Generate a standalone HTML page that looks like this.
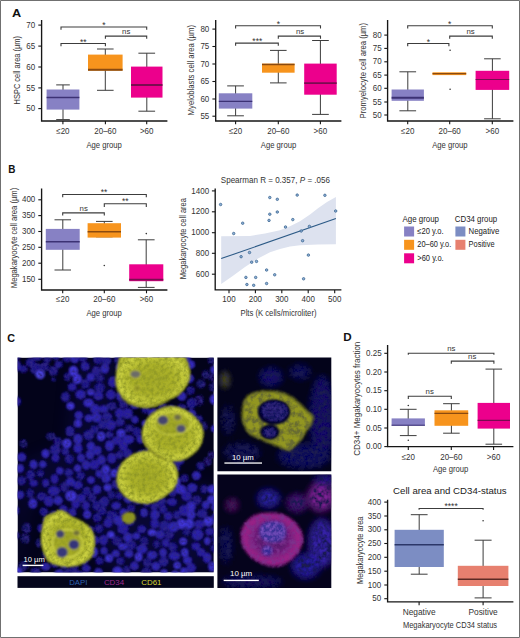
<!DOCTYPE html>
<html><head><meta charset="utf-8"><title>Figure</title>
<style>
html,body{margin:0;padding:0;background:#fff;}
body{width:520px;height:638px;overflow:hidden;position:relative;font-family:"Liberation Sans",sans-serif;}
svg{display:block;position:absolute;left:0;top:0;}
svg text{font-family:"Liberation Sans",sans-serif;}
</style></head><body>
<svg width="520" height="638" viewBox="0 0 520 638">
<rect x="0" y="0" width="520" height="638" fill="#fff"/>

<text x="12.0" y="16.8" font-size="11.8" text-anchor="start" fill="#111" textLength="9.2" lengthAdjust="spacingAndGlyphs" font-weight="bold">A</text>
<text x="8.3" y="173.1" font-size="11.3" text-anchor="start" fill="#111" textLength="7.2" lengthAdjust="spacingAndGlyphs" font-weight="bold">B</text>
<text x="7.3" y="341.5" font-size="11.6" text-anchor="start" fill="#111" textLength="7.8" lengthAdjust="spacingAndGlyphs" font-weight="bold">C</text>
<text x="343.2" y="341.4" font-size="11.0" text-anchor="start" fill="#111" textLength="8.4" lengthAdjust="spacingAndGlyphs" font-weight="bold">D</text>
<path d="M41.6 20.0V121.0H167.4" fill="none" stroke="#161616" stroke-width="1.35"/>
<path d="M38.3 25.1H41.6" stroke="#161616" stroke-width="1.1"/>
<text x="35.1" y="27.7" font-size="8.6" text-anchor="end" fill="#333" textLength="8.9" lengthAdjust="spacingAndGlyphs">70</text>
<path d="M38.3 46.1H41.6" stroke="#161616" stroke-width="1.1"/>
<text x="35.1" y="48.7" font-size="8.6" text-anchor="end" fill="#333" textLength="8.9" lengthAdjust="spacingAndGlyphs">65</text>
<path d="M38.3 67.0H41.6" stroke="#161616" stroke-width="1.1"/>
<text x="35.1" y="69.6" font-size="8.6" text-anchor="end" fill="#333" textLength="8.9" lengthAdjust="spacingAndGlyphs">60</text>
<path d="M38.3 87.9H41.6" stroke="#161616" stroke-width="1.1"/>
<text x="35.1" y="90.5" font-size="8.6" text-anchor="end" fill="#333" textLength="8.9" lengthAdjust="spacingAndGlyphs">55</text>
<path d="M38.3 108.6H41.6" stroke="#161616" stroke-width="1.1"/>
<text x="35.1" y="111.2" font-size="8.6" text-anchor="end" fill="#333" textLength="8.9" lengthAdjust="spacingAndGlyphs">50</text>
<path d="M62.9 121.0V124.3" stroke="#161616" stroke-width="1.1"/>
<text x="62.9" y="134.4" font-size="8.6" text-anchor="middle" fill="#333" textLength="13.3" lengthAdjust="spacingAndGlyphs">≤20</text>
<path d="M105.4 121.0V124.3" stroke="#161616" stroke-width="1.1"/>
<text x="105.4" y="134.4" font-size="8.6" text-anchor="middle" fill="#333" textLength="22.2" lengthAdjust="spacingAndGlyphs">20–60</text>
<path d="M146.7 121.0V124.3" stroke="#161616" stroke-width="1.1"/>
<text x="146.7" y="134.4" font-size="8.6" text-anchor="middle" fill="#333" textLength="13.6" lengthAdjust="spacingAndGlyphs">&gt;60</text>
<path d="M63.0 84.9V119.6M56.2 84.9H69.8M56.2 119.6H69.8" stroke="#3c3c3c" stroke-width="1" fill="none"/>
<rect x="46.6" y="89.5" width="32.8" height="20.1" fill="#8781C4"/>
<path d="M46.6 97.5H79.4" stroke="#3c3274" stroke-width="1.6"/>
<path d="M105.3 49.0V90.3M97.0 49.0H113.6M97.0 90.3H113.6" stroke="#3c3c3c" stroke-width="1" fill="none"/>
<rect x="88.0" y="54.6" width="34.6" height="16.0" fill="#F7941D"/>
<path d="M88.0 69.7H122.6" stroke="#8A4A10" stroke-width="2.0"/>
<path d="M146.8 53.2V111.2M138.4 53.2H155.1M138.4 111.2H155.1" stroke="#3c3c3c" stroke-width="1" fill="none"/>
<rect x="131.0" y="66.6" width="31.5" height="31.0" fill="#EC008C"/>
<path d="M131.0 85.0H162.5" stroke="#7A0C50" stroke-width="2.0"/>
<path d="M61.0 29.7V27.0H146.7V29.7" fill="none" stroke="#3c3c3c" stroke-width="1.1"/>
<text x="103.8" y="27.6" font-size="8.5" text-anchor="middle" fill="#333">*</text>
<path d="M105.4 38.8V36.1H146.7V38.8" fill="none" stroke="#3c3c3c" stroke-width="1.1"/>
<text x="126.2" y="33.7" font-size="7.8" text-anchor="middle" fill="#333">ns</text>
<path d="M61.0 46.2V43.5H105.4V46.2" fill="none" stroke="#3c3c3c" stroke-width="1.1"/>
<text x="83.2" y="44.8" font-size="8.5" text-anchor="middle" fill="#333">**</text>
<text x="104.2" y="147.6" font-size="9.5" text-anchor="middle" fill="#333" textLength="35.4" lengthAdjust="spacingAndGlyphs">Age group</text>
<text transform="translate(20.2,70.2) rotate(-90)" font-size="9.5" text-anchor="middle" fill="#333" textLength="68.4" lengthAdjust="spacingAndGlyphs">HSPC cell area (µm)</text>
<path d="M215.7 20.0V121.0H341.4" fill="none" stroke="#161616" stroke-width="1.35"/>
<path d="M212.4 29.1H215.7" stroke="#161616" stroke-width="1.1"/>
<text x="209.3" y="31.7" font-size="8.6" text-anchor="end" fill="#333" textLength="8.9" lengthAdjust="spacingAndGlyphs">80</text>
<path d="M212.4 46.5H215.7" stroke="#161616" stroke-width="1.1"/>
<text x="209.3" y="49.1" font-size="8.6" text-anchor="end" fill="#333" textLength="8.9" lengthAdjust="spacingAndGlyphs">75</text>
<path d="M212.4 64.0H215.7" stroke="#161616" stroke-width="1.1"/>
<text x="209.3" y="66.6" font-size="8.6" text-anchor="end" fill="#333" textLength="8.9" lengthAdjust="spacingAndGlyphs">70</text>
<path d="M212.4 81.5H215.7" stroke="#161616" stroke-width="1.1"/>
<text x="209.3" y="84.1" font-size="8.6" text-anchor="end" fill="#333" textLength="8.9" lengthAdjust="spacingAndGlyphs">65</text>
<path d="M212.4 99.0H215.7" stroke="#161616" stroke-width="1.1"/>
<text x="209.3" y="101.6" font-size="8.6" text-anchor="end" fill="#333" textLength="8.9" lengthAdjust="spacingAndGlyphs">60</text>
<path d="M212.4 116.2H215.7" stroke="#161616" stroke-width="1.1"/>
<text x="209.3" y="118.8" font-size="8.6" text-anchor="end" fill="#333" textLength="8.9" lengthAdjust="spacingAndGlyphs">55</text>
<path d="M235.6 121.0V124.3" stroke="#161616" stroke-width="1.1"/>
<text x="235.6" y="134.4" font-size="8.6" text-anchor="middle" fill="#333" textLength="13.3" lengthAdjust="spacingAndGlyphs">≤20</text>
<path d="M278.3 121.0V124.3" stroke="#161616" stroke-width="1.1"/>
<text x="278.3" y="134.4" font-size="8.6" text-anchor="middle" fill="#333" textLength="22.2" lengthAdjust="spacingAndGlyphs">20–60</text>
<path d="M320.4 121.0V124.3" stroke="#161616" stroke-width="1.1"/>
<text x="320.4" y="134.4" font-size="8.6" text-anchor="middle" fill="#333" textLength="13.6" lengthAdjust="spacingAndGlyphs">&gt;60</text>
<path d="M235.6 85.9V115.8M227.2 85.9H243.9M227.2 115.8H243.9" stroke="#3c3c3c" stroke-width="1" fill="none"/>
<rect x="218.8" y="93.3" width="33.5" height="15.3" fill="#8781C4"/>
<path d="M218.8 101.4H252.3" stroke="#3c3274" stroke-width="1.2"/>
<path d="M278.3 50.4V82.9M270.0 50.4H286.6M270.0 82.9H286.6" stroke="#3c3c3c" stroke-width="1" fill="none"/>
<rect x="262.0" y="63.6" width="32.6" height="9.1" fill="#F7941D"/>
<path d="M262.0 64.4H294.6" stroke="#8A4A10" stroke-width="1.5"/>
<path d="M320.4 40.5V114.4M312.1 40.5H328.8M312.1 114.4H328.8" stroke="#3c3c3c" stroke-width="1" fill="none"/>
<rect x="304.2" y="63.6" width="32.5" height="31.1" fill="#EC008C"/>
<path d="M304.2 83.1H336.7" stroke="#7A0C50" stroke-width="1.8"/>
<path d="M235.6 28.4V25.7H320.5V28.4" fill="none" stroke="#3c3c3c" stroke-width="1.1"/>
<text x="278.5" y="26.6" font-size="8.5" text-anchor="middle" fill="#333">*</text>
<path d="M278.3 38.8V36.1H320.5V38.8" fill="none" stroke="#3c3c3c" stroke-width="1.1"/>
<text x="300.0" y="33.7" font-size="7.8" text-anchor="middle" fill="#333">ns</text>
<path d="M235.6 45.8V43.1H278.3V45.8" fill="none" stroke="#3c3c3c" stroke-width="1.1"/>
<text x="257.3" y="44.4" font-size="8.5" text-anchor="middle" fill="#333">***</text>
<text x="278.5" y="147.6" font-size="9.5" text-anchor="middle" fill="#333" textLength="35.4" lengthAdjust="spacingAndGlyphs">Age group</text>
<text transform="translate(194.4,70.2) rotate(-90)" font-size="9.5" text-anchor="middle" fill="#333" textLength="90.4" lengthAdjust="spacingAndGlyphs">Myeloblasts cell area (µm)</text>
<path d="M387.6 20.0V121.0H513.4" fill="none" stroke="#161616" stroke-width="1.35"/>
<path d="M384.3 35.1H387.6" stroke="#161616" stroke-width="1.1"/>
<text x="381.7" y="37.7" font-size="8.6" text-anchor="end" fill="#333" textLength="8.9" lengthAdjust="spacingAndGlyphs">80</text>
<path d="M384.3 48.4H387.6" stroke="#161616" stroke-width="1.1"/>
<text x="381.7" y="51.0" font-size="8.6" text-anchor="end" fill="#333" textLength="8.9" lengthAdjust="spacingAndGlyphs">75</text>
<path d="M384.3 61.8H387.6" stroke="#161616" stroke-width="1.1"/>
<text x="381.7" y="64.4" font-size="8.6" text-anchor="end" fill="#333" textLength="8.9" lengthAdjust="spacingAndGlyphs">70</text>
<path d="M384.3 75.1H387.6" stroke="#161616" stroke-width="1.1"/>
<text x="381.7" y="77.7" font-size="8.6" text-anchor="end" fill="#333" textLength="8.9" lengthAdjust="spacingAndGlyphs">65</text>
<path d="M384.3 88.3H387.6" stroke="#161616" stroke-width="1.1"/>
<text x="381.7" y="90.9" font-size="8.6" text-anchor="end" fill="#333" textLength="8.9" lengthAdjust="spacingAndGlyphs">60</text>
<path d="M384.3 102.0H387.6" stroke="#161616" stroke-width="1.1"/>
<text x="381.7" y="104.6" font-size="8.6" text-anchor="end" fill="#333" textLength="8.9" lengthAdjust="spacingAndGlyphs">55</text>
<path d="M384.3 115.0H387.6" stroke="#161616" stroke-width="1.1"/>
<text x="381.7" y="117.6" font-size="8.6" text-anchor="end" fill="#333" textLength="8.9" lengthAdjust="spacingAndGlyphs">50</text>
<path d="M407.7 121.0V124.3" stroke="#161616" stroke-width="1.1"/>
<text x="407.7" y="134.4" font-size="8.6" text-anchor="middle" fill="#333" textLength="13.3" lengthAdjust="spacingAndGlyphs">≤20</text>
<path d="M449.7 121.0V124.3" stroke="#161616" stroke-width="1.1"/>
<text x="449.7" y="134.4" font-size="8.6" text-anchor="middle" fill="#333" textLength="22.2" lengthAdjust="spacingAndGlyphs">20–60</text>
<path d="M492.3 121.0V124.3" stroke="#161616" stroke-width="1.1"/>
<text x="492.3" y="134.4" font-size="8.6" text-anchor="middle" fill="#333" textLength="13.6" lengthAdjust="spacingAndGlyphs">&gt;60</text>
<path d="M407.8 71.8V110.8M399.4 71.8H416.1M399.4 110.8H416.1" stroke="#3c3c3c" stroke-width="1" fill="none"/>
<rect x="391.6" y="89.5" width="32.3" height="11.3" fill="#8781C4"/>
<path d="M391.6 97.8H423.9" stroke="#3c3274" stroke-width="2.0"/>
<rect x="432.5" y="72.3" width="33.7" height="2.8" fill="#F7941D"/>
<path d="M432.5 73.7H466.2" stroke="#8A4A10" stroke-width="1.2"/>
<circle cx="450.1" cy="50.2" r="0.8" fill="#333"/><circle cx="450.1" cy="89.3" r="0.8" fill="#333"/>
<path d="M492.4 58.8V118.8M484.1 58.8H500.7M484.1 118.8H500.7" stroke="#3c3c3c" stroke-width="1" fill="none"/>
<rect x="475.6" y="70.8" width="33.6" height="19.1" fill="#EC008C"/>
<path d="M475.6 79.5H509.2" stroke="#7A0C50" stroke-width="1.2"/>
<path d="M407.7 28.4V25.7H492.3V28.4" fill="none" stroke="#3c3c3c" stroke-width="1.1"/>
<text x="449.7" y="26.6" font-size="8.5" text-anchor="middle" fill="#333">*</text>
<path d="M449.7 38.8V36.1H492.3V38.8" fill="none" stroke="#3c3c3c" stroke-width="1.1"/>
<text x="470.6" y="33.7" font-size="7.8" text-anchor="middle" fill="#333">ns</text>
<path d="M407.7 46.2V43.5H448.9V46.2" fill="none" stroke="#3c3c3c" stroke-width="1.1"/>
<text x="428.4" y="44.7" font-size="8.5" text-anchor="middle" fill="#333">*</text>
<text x="449.9" y="147.6" font-size="9.5" text-anchor="middle" fill="#333" textLength="35.4" lengthAdjust="spacingAndGlyphs">Age group</text>
<text transform="translate(366.2,70.7) rotate(-90)" font-size="9.5" text-anchor="middle" fill="#333" textLength="95.4" lengthAdjust="spacingAndGlyphs">Promyelocyte cell area (µm)</text>
<path d="M41.6 188.5V290.0H167.4" fill="none" stroke="#161616" stroke-width="1.35"/>
<path d="M38.3 199.8H41.6" stroke="#161616" stroke-width="1.1"/>
<text x="35.3" y="202.4" font-size="8.6" text-anchor="end" fill="#333" textLength="13.3" lengthAdjust="spacingAndGlyphs">400</text>
<path d="M38.3 215.6H41.6" stroke="#161616" stroke-width="1.1"/>
<text x="35.3" y="218.2" font-size="8.6" text-anchor="end" fill="#333" textLength="13.3" lengthAdjust="spacingAndGlyphs">350</text>
<path d="M38.3 231.5H41.6" stroke="#161616" stroke-width="1.1"/>
<text x="35.3" y="234.1" font-size="8.6" text-anchor="end" fill="#333" textLength="13.3" lengthAdjust="spacingAndGlyphs">300</text>
<path d="M38.3 247.3H41.6" stroke="#161616" stroke-width="1.1"/>
<text x="35.3" y="249.9" font-size="8.6" text-anchor="end" fill="#333" textLength="13.3" lengthAdjust="spacingAndGlyphs">250</text>
<path d="M38.3 263.2H41.6" stroke="#161616" stroke-width="1.1"/>
<text x="35.3" y="265.8" font-size="8.6" text-anchor="end" fill="#333" textLength="13.3" lengthAdjust="spacingAndGlyphs">200</text>
<path d="M38.3 279.3H41.6" stroke="#161616" stroke-width="1.1"/>
<text x="35.3" y="281.9" font-size="8.6" text-anchor="end" fill="#333" textLength="13.3" lengthAdjust="spacingAndGlyphs">150</text>
<path d="M62.7 290.0V293.3" stroke="#161616" stroke-width="1.1"/>
<text x="62.7" y="302.4" font-size="8.6" text-anchor="middle" fill="#333" textLength="13.3" lengthAdjust="spacingAndGlyphs">≤20</text>
<path d="M104.3 290.0V293.3" stroke="#161616" stroke-width="1.1"/>
<text x="104.3" y="302.4" font-size="8.6" text-anchor="middle" fill="#333" textLength="22.2" lengthAdjust="spacingAndGlyphs">20–60</text>
<path d="M146.5 290.0V293.3" stroke="#161616" stroke-width="1.1"/>
<text x="146.5" y="302.4" font-size="8.6" text-anchor="middle" fill="#333" textLength="13.6" lengthAdjust="spacingAndGlyphs">&gt;60</text>
<path d="M62.8 219.8V270.0M54.5 219.8H71.0M54.5 270.0H71.0" stroke="#3c3c3c" stroke-width="1" fill="none"/>
<rect x="45.8" y="228.9" width="33.9" height="20.9" fill="#8781C4"/>
<path d="M45.8 241.7H79.7" stroke="#3c3274" stroke-width="1.4"/>
<path d="M104.3 221.4V236.8M96.0 221.4H112.6M96.0 236.8H112.6" stroke="#3c3c3c" stroke-width="1" fill="none"/>
<rect x="87.6" y="223.2" width="33.4" height="14.4" fill="#F7941D"/>
<path d="M87.6 231.8H121.0" stroke="#8A4A10" stroke-width="1.6"/>
<circle cx="104.3" cy="265.5" r="0.8" fill="#333"/>
<path d="M146.2 239.8V287.4M137.9 239.8H154.6M137.9 287.4H154.6" stroke="#3c3c3c" stroke-width="1" fill="none"/>
<rect x="129.2" y="264.3" width="34.1" height="16.9" fill="#EC008C"/>
<path d="M129.2 279.7H163.3" stroke="#7A0C50" stroke-width="1.8"/>
<circle cx="146.3" cy="233.6" r="0.8" fill="#333"/>
<path d="M62.7 197.2V194.5H146.3V197.2" fill="none" stroke="#3c3c3c" stroke-width="1.1"/>
<text x="104.1" y="194.6" font-size="8.5" text-anchor="middle" fill="#333">**</text>
<path d="M104.3 206.9V203.7H146.3V206.9" fill="none" stroke="#3c3c3c" stroke-width="1.1"/>
<text x="125.2" y="204.2" font-size="8.5" text-anchor="middle" fill="#333">**</text>
<path d="M62.7 215.6V212.9H104.3V215.6" fill="none" stroke="#3c3c3c" stroke-width="1.1"/>
<text x="83.7" y="210.6" font-size="7.8" text-anchor="middle" fill="#333">ns</text>
<text x="104.2" y="315.9" font-size="9.5" text-anchor="middle" fill="#333" textLength="35.4" lengthAdjust="spacingAndGlyphs">Age group</text>
<text transform="translate(16.5,238.0) rotate(-90)" font-size="9.5" text-anchor="middle" fill="#333" textLength="100.4" lengthAdjust="spacingAndGlyphs">Megakaryocyte cell area (µm)</text>
<path d="M221.2 236.3 L250 236.0 L265 233.5 L280 230.2 L290 226.2 L300 221.2 L310 214.5 L318 208.2 L327 202.0 L335.9 197.1 L335.9 244.3 L318 244.5 L300 245.2 L290 246.5 L280 249.0 L270 252.3 L258 258.5 L245 267.0 L232 276.5 L221.2 284.1 Z" fill="#dde2ef"/>
<path d="M221.2 258.6L335.9 218.6" stroke="#2c5a86" stroke-width="1.1"/>
<circle cx="220.6" cy="204.5" r="1.25" fill="#8fb0d6" stroke="#2f5c88" stroke-width="0.7"/>
<circle cx="269.8" cy="197.5" r="1.25" fill="#8fb0d6" stroke="#2f5c88" stroke-width="0.7"/>
<circle cx="269.8" cy="214.2" r="1.25" fill="#8fb0d6" stroke="#2f5c88" stroke-width="0.7"/>
<circle cx="269.0" cy="220.4" r="1.25" fill="#8fb0d6" stroke="#2f5c88" stroke-width="0.7"/>
<circle cx="242.7" cy="223.2" r="1.25" fill="#8fb0d6" stroke="#2f5c88" stroke-width="0.7"/>
<circle cx="233.7" cy="233.5" r="1.25" fill="#8fb0d6" stroke="#2f5c88" stroke-width="0.7"/>
<circle cx="249.5" cy="252.5" r="1.25" fill="#8fb0d6" stroke="#2f5c88" stroke-width="0.7"/>
<circle cx="241.1" cy="256.7" r="1.25" fill="#8fb0d6" stroke="#2f5c88" stroke-width="0.7"/>
<circle cx="251.7" cy="262.2" r="1.25" fill="#8fb0d6" stroke="#2f5c88" stroke-width="0.7"/>
<circle cx="256.5" cy="261.4" r="1.25" fill="#8fb0d6" stroke="#2f5c88" stroke-width="0.7"/>
<circle cx="266.6" cy="270.0" r="1.25" fill="#8fb0d6" stroke="#2f5c88" stroke-width="0.7"/>
<circle cx="245.9" cy="277.4" r="1.25" fill="#8fb0d6" stroke="#2f5c88" stroke-width="0.7"/>
<circle cx="255.7" cy="277.4" r="1.25" fill="#8fb0d6" stroke="#2f5c88" stroke-width="0.7"/>
<circle cx="246.9" cy="284.5" r="1.25" fill="#8fb0d6" stroke="#2f5c88" stroke-width="0.7"/>
<circle cx="253.7" cy="285.3" r="1.25" fill="#8fb0d6" stroke="#2f5c88" stroke-width="0.7"/>
<circle cx="266.6" cy="283.5" r="1.25" fill="#8fb0d6" stroke="#2f5c88" stroke-width="0.7"/>
<circle cx="274.7" cy="274.8" r="1.25" fill="#8fb0d6" stroke="#2f5c88" stroke-width="0.7"/>
<circle cx="277.3" cy="199.3" r="1.25" fill="#8fb0d6" stroke="#2f5c88" stroke-width="0.7"/>
<circle cx="297.2" cy="195.1" r="1.25" fill="#8fb0d6" stroke="#2f5c88" stroke-width="0.7"/>
<circle cx="324.9" cy="195.3" r="1.25" fill="#8fb0d6" stroke="#2f5c88" stroke-width="0.7"/>
<circle cx="335.7" cy="211.0" r="1.25" fill="#8fb0d6" stroke="#2f5c88" stroke-width="0.7"/>
<circle cx="277.3" cy="212.0" r="1.25" fill="#8fb0d6" stroke="#2f5c88" stroke-width="0.7"/>
<circle cx="292.8" cy="219.6" r="1.25" fill="#8fb0d6" stroke="#2f5c88" stroke-width="0.7"/>
<circle cx="285.5" cy="227.0" r="1.25" fill="#8fb0d6" stroke="#2f5c88" stroke-width="0.7"/>
<circle cx="309.4" cy="226.4" r="1.25" fill="#8fb0d6" stroke="#2f5c88" stroke-width="0.7"/>
<circle cx="301.2" cy="231.0" r="1.25" fill="#8fb0d6" stroke="#2f5c88" stroke-width="0.7"/>
<circle cx="302.6" cy="240.7" r="1.25" fill="#8fb0d6" stroke="#2f5c88" stroke-width="0.7"/>
<circle cx="308.4" cy="255.1" r="1.25" fill="#8fb0d6" stroke="#2f5c88" stroke-width="0.7"/>
<circle cx="303.6" cy="278.8" r="1.25" fill="#8fb0d6" stroke="#2f5c88" stroke-width="0.7"/>
<path d="M215.2 188.5V289.9H341.4" fill="none" stroke="#161616" stroke-width="1.35"/>
<path d="M211.9 190.9H215.2" stroke="#161616" stroke-width="1.1"/>
<text x="209.1" y="193.5" font-size="8.6" text-anchor="end" fill="#333" textLength="17.8" lengthAdjust="spacingAndGlyphs">1400</text>
<path d="M211.9 211.8H215.2" stroke="#161616" stroke-width="1.1"/>
<text x="209.1" y="214.4" font-size="8.6" text-anchor="end" fill="#333" textLength="17.8" lengthAdjust="spacingAndGlyphs">1200</text>
<path d="M211.9 232.7H215.2" stroke="#161616" stroke-width="1.1"/>
<text x="209.1" y="235.3" font-size="8.6" text-anchor="end" fill="#333" textLength="17.8" lengthAdjust="spacingAndGlyphs">1000</text>
<path d="M211.9 253.3H215.2" stroke="#161616" stroke-width="1.1"/>
<text x="209.1" y="255.9" font-size="8.6" text-anchor="end" fill="#333" textLength="13.3" lengthAdjust="spacingAndGlyphs">800</text>
<path d="M211.9 274.2H215.2" stroke="#161616" stroke-width="1.1"/>
<text x="209.1" y="276.8" font-size="8.6" text-anchor="end" fill="#333" textLength="13.3" lengthAdjust="spacingAndGlyphs">600</text>
<path d="M229.0 289.9V293.2" stroke="#161616" stroke-width="1.1"/>
<text x="229.0" y="302.4" font-size="8.6" text-anchor="middle" fill="#333" textLength="13.3" lengthAdjust="spacingAndGlyphs">100</text>
<path d="M255.4 289.9V293.2" stroke="#161616" stroke-width="1.1"/>
<text x="255.4" y="302.4" font-size="8.6" text-anchor="middle" fill="#333" textLength="13.3" lengthAdjust="spacingAndGlyphs">200</text>
<path d="M281.8 289.9V293.2" stroke="#161616" stroke-width="1.1"/>
<text x="281.8" y="302.4" font-size="8.6" text-anchor="middle" fill="#333" textLength="13.3" lengthAdjust="spacingAndGlyphs">300</text>
<path d="M308.2 289.9V293.2" stroke="#161616" stroke-width="1.1"/>
<text x="308.2" y="302.4" font-size="8.6" text-anchor="middle" fill="#333" textLength="13.3" lengthAdjust="spacingAndGlyphs">400</text>
<path d="M334.7 289.9V293.2" stroke="#161616" stroke-width="1.1"/>
<text x="334.7" y="302.4" font-size="8.6" text-anchor="middle" fill="#333" textLength="13.3" lengthAdjust="spacingAndGlyphs">500</text>
<text x="278.5" y="315.6" font-size="9.5" text-anchor="middle" fill="#333" textLength="76.0" lengthAdjust="spacingAndGlyphs">Plts (K cells/microliter)</text>
<text transform="translate(186.0,238.7) rotate(-90)" font-size="9.5" text-anchor="middle" fill="#333" textLength="81.3" lengthAdjust="spacingAndGlyphs">Megakaryocyte cell area</text>
<text x="220.8" y="183.0" font-size="8.2" fill="#333" textLength="109.2" lengthAdjust="spacingAndGlyphs">Spearman R = 0.357, <tspan font-style="italic">P</tspan> = .056</text>
<text x="402.6" y="221.5" font-size="8.3" text-anchor="start" fill="#222" textLength="36.4" lengthAdjust="spacingAndGlyphs">Age group</text>
<text x="454.8" y="221.5" font-size="8.3" text-anchor="start" fill="#222" textLength="42.4" lengthAdjust="spacingAndGlyphs">CD34 group</text>
<rect x="404.1" y="226.5" width="10" height="10" fill="#8781C4"/>
<text x="417.3" y="234.1" font-size="8.3" text-anchor="start" fill="#222" textLength="26.4" lengthAdjust="spacingAndGlyphs">≤20 y.o.</text>
<rect x="404.1" y="239.8" width="10" height="10" fill="#F7941D"/>
<text x="417.3" y="247.4" font-size="8.3" text-anchor="start" fill="#222" textLength="34.0" lengthAdjust="spacingAndGlyphs">20–60 y.o.</text>
<rect x="404.1" y="253.3" width="10" height="10" fill="#EC008C"/>
<text x="417.3" y="260.9" font-size="8.3" text-anchor="start" fill="#222" textLength="26.4" lengthAdjust="spacingAndGlyphs">&gt;60 y.o.</text>
<rect x="455.4" y="226.5" width="10" height="10" fill="#7C8DC3"/>
<text x="468.6" y="234.1" font-size="8.3" text-anchor="start" fill="#222" textLength="30.7" lengthAdjust="spacingAndGlyphs">Negative</text>
<rect x="455.4" y="239.8" width="10" height="10" fill="#E7806F"/>
<text x="468.6" y="247.4" font-size="8.3" text-anchor="start" fill="#222" textLength="26.0" lengthAdjust="spacingAndGlyphs">Positive</text>
<path d="M387.6 345.1V446.6H513.4" fill="none" stroke="#161616" stroke-width="1.35"/>
<path d="M384.3 353.3H387.6" stroke="#161616" stroke-width="1.1"/>
<text x="381.7" y="355.9" font-size="8.6" text-anchor="end" fill="#333" textLength="15.6" lengthAdjust="spacingAndGlyphs">0.25</text>
<path d="M384.3 372.0H387.6" stroke="#161616" stroke-width="1.1"/>
<text x="381.7" y="374.6" font-size="8.6" text-anchor="end" fill="#333" textLength="15.6" lengthAdjust="spacingAndGlyphs">0.20</text>
<path d="M384.3 390.7H387.6" stroke="#161616" stroke-width="1.1"/>
<text x="381.7" y="393.3" font-size="8.6" text-anchor="end" fill="#333" textLength="15.6" lengthAdjust="spacingAndGlyphs">0.15</text>
<path d="M384.3 409.3H387.6" stroke="#161616" stroke-width="1.1"/>
<text x="381.7" y="411.9" font-size="8.6" text-anchor="end" fill="#333" textLength="15.6" lengthAdjust="spacingAndGlyphs">0.10</text>
<path d="M384.3 428.0H387.6" stroke="#161616" stroke-width="1.1"/>
<text x="381.7" y="430.6" font-size="8.6" text-anchor="end" fill="#333" textLength="15.6" lengthAdjust="spacingAndGlyphs">0.05</text>
<path d="M384.3 446.6H387.6" stroke="#161616" stroke-width="1.1"/>
<text x="381.7" y="449.2" font-size="8.6" text-anchor="end" fill="#333" textLength="15.6" lengthAdjust="spacingAndGlyphs">0.00</text>
<path d="M408.3 446.6V449.9" stroke="#161616" stroke-width="1.1"/>
<text x="408.3" y="459.6" font-size="8.6" text-anchor="middle" fill="#333" textLength="13.3" lengthAdjust="spacingAndGlyphs">≤20</text>
<path d="M451.3 446.6V449.9" stroke="#161616" stroke-width="1.1"/>
<text x="451.3" y="459.6" font-size="8.6" text-anchor="middle" fill="#333" textLength="22.2" lengthAdjust="spacingAndGlyphs">20–60</text>
<path d="M493.6 446.6V449.9" stroke="#161616" stroke-width="1.1"/>
<text x="493.6" y="459.6" font-size="8.6" text-anchor="middle" fill="#333" textLength="13.6" lengthAdjust="spacingAndGlyphs">&gt;60</text>
<path d="M408.2 409.3V435.6M399.9 409.3H416.6M399.9 435.6H416.6" stroke="#3c3c3c" stroke-width="1" fill="none"/>
<rect x="391.6" y="418.4" width="33.3" height="7.4" fill="#8781C4"/>
<path d="M391.6 425.2H424.9" stroke="#3c3274" stroke-width="1.0"/>
<circle cx="408.3" cy="405.5" r="0.8" fill="#333"/>
<circle cx="408.3" cy="440.3" r="0.8" fill="#333"/>
<path d="M451.4 403.7V433.2M443.1 403.7H459.7M443.1 433.2H459.7" stroke="#3c3c3c" stroke-width="1" fill="none"/>
<rect x="434.5" y="410.3" width="33.7" height="15.5" fill="#F7941D"/>
<path d="M434.5 413.3H468.2" stroke="#8A4A10" stroke-width="1.2"/>
<path d="M493.8 369.1V444.2M485.5 369.1H502.1M485.5 444.2H502.1" stroke="#3c3c3c" stroke-width="1" fill="none"/>
<rect x="477.6" y="402.9" width="32.4" height="25.7" fill="#EC008C"/>
<path d="M477.6 420.3H510.0" stroke="#7A0C50" stroke-width="1.2"/>
<path d="M408.3 354.8V353.2H493.9V354.8" fill="none" stroke="#3c3c3c" stroke-width="1.1"/>
<text x="451.3" y="350.7" font-size="7.8" text-anchor="middle" fill="#333">ns</text>
<path d="M451.3 363.8V361.1H493.9V363.8" fill="none" stroke="#3c3c3c" stroke-width="1.1"/>
<text x="472.2" y="358.7" font-size="7.8" text-anchor="middle" fill="#333">ns</text>
<path d="M408.3 398.9V396.2H451.3V398.9" fill="none" stroke="#3c3c3c" stroke-width="1.1"/>
<text x="429.7" y="393.8" font-size="7.8" text-anchor="middle" fill="#333">ns</text>
<text x="450.6" y="471.8" font-size="9.5" text-anchor="middle" fill="#333" textLength="35.4" lengthAdjust="spacingAndGlyphs">Age group</text>
<text transform="translate(360.3,398.7) rotate(-90)" font-size="8.5" text-anchor="middle" fill="#333" textLength="114.0" lengthAdjust="spacingAndGlyphs">CD34+ Megakaryocytes fraction</text>
<text x="449.9" y="494.0" font-size="9.3" text-anchor="middle" fill="#222" textLength="113.6" lengthAdjust="spacingAndGlyphs">Cell area and CD34-status</text>
<path d="M387.6 499.7V601.9H513.4" fill="none" stroke="#161616" stroke-width="1.35"/>
<path d="M384.3 502.1H387.6" stroke="#161616" stroke-width="1.1"/>
<text x="381.1" y="504.7" font-size="8.6" text-anchor="end" fill="#333" textLength="13.3" lengthAdjust="spacingAndGlyphs">400</text>
<path d="M384.3 516.0H387.6" stroke="#161616" stroke-width="1.1"/>
<text x="381.1" y="518.6" font-size="8.6" text-anchor="end" fill="#333" textLength="13.3" lengthAdjust="spacingAndGlyphs">350</text>
<path d="M384.3 529.8H387.6" stroke="#161616" stroke-width="1.1"/>
<text x="381.1" y="532.4" font-size="8.6" text-anchor="end" fill="#333" textLength="13.3" lengthAdjust="spacingAndGlyphs">300</text>
<path d="M384.3 543.5H387.6" stroke="#161616" stroke-width="1.1"/>
<text x="381.1" y="546.1" font-size="8.6" text-anchor="end" fill="#333" textLength="13.3" lengthAdjust="spacingAndGlyphs">250</text>
<path d="M384.3 557.3H387.6" stroke="#161616" stroke-width="1.1"/>
<text x="381.1" y="559.9" font-size="8.6" text-anchor="end" fill="#333" textLength="13.3" lengthAdjust="spacingAndGlyphs">200</text>
<path d="M384.3 571.2H387.6" stroke="#161616" stroke-width="1.1"/>
<text x="381.1" y="573.8" font-size="8.6" text-anchor="end" fill="#333" textLength="13.3" lengthAdjust="spacingAndGlyphs">150</text>
<path d="M384.3 585.0H387.6" stroke="#161616" stroke-width="1.1"/>
<text x="381.1" y="587.6" font-size="8.6" text-anchor="end" fill="#333" textLength="13.3" lengthAdjust="spacingAndGlyphs">100</text>
<path d="M384.3 598.7H387.6" stroke="#161616" stroke-width="1.1"/>
<text x="381.1" y="601.3" font-size="8.6" text-anchor="end" fill="#333" textLength="8.9" lengthAdjust="spacingAndGlyphs">50</text>
<path d="M419.1 601.9V605.2" stroke="#161616" stroke-width="1.1"/>
<text x="419.1" y="614.6" font-size="8.6" text-anchor="middle" fill="#333" textLength="32.9" lengthAdjust="spacingAndGlyphs">Negative</text>
<path d="M483.1 601.9V605.2" stroke="#161616" stroke-width="1.1"/>
<text x="483.1" y="614.6" font-size="8.6" text-anchor="middle" fill="#333" textLength="29.2" lengthAdjust="spacingAndGlyphs">Positive</text>
<path d="M419.2 514.7V574.2M410.8 514.7H427.6M410.8 574.2H427.6" stroke="#3c3c3c" stroke-width="1" fill="none"/>
<rect x="394.6" y="529.8" width="49.2" height="37.2" fill="#7C8DC3"/>
<path d="M394.6 544.7H443.8" stroke="#2B3768" stroke-width="1.6"/>
<path d="M483.1 540.2V597.9M474.6 540.2H491.6M474.6 597.9H491.6" stroke="#3c3c3c" stroke-width="1" fill="none"/>
<rect x="457.8" y="565.8" width="50.6" height="20.2" fill="#E7806F"/>
<path d="M457.8 579.2H508.4" stroke="#5C2A24" stroke-width="1.4"/>
<circle cx="483.1" cy="520.8" r="0.8" fill="#333"/>
<path d="M419.1 509.7V508.5H483.1V509.7" fill="none" stroke="#3c3c3c" stroke-width="1.1"/>
<text x="451.1" y="508.9" font-size="8.5" text-anchor="middle" fill="#333">****</text>
<text x="450.0" y="628.2" font-size="9.5" text-anchor="middle" fill="#333" textLength="94.2" lengthAdjust="spacingAndGlyphs">Megakaryocyte CD34 status</text>
<text transform="translate(362.6,550.3) rotate(-90)" font-size="9.5" text-anchor="middle" fill="#333" textLength="67.4" lengthAdjust="spacingAndGlyphs">Megakaryocyte area</text>
<defs>
<clipPath id="cm"><rect x="17.5" y="357.6" width="196.3" height="214.9"/></clipPath>
<clipPath id="ct"><rect x="217.4" y="357.5" width="113.9" height="113.8"/></clipPath>
<clipPath id="cb"><rect x="217.4" y="474.5" width="113.9" height="113.4"/></clipPath>
<filter id="b05" x="-20%" y="-20%" width="140%" height="140%"><feGaussianBlur stdDeviation="0.55"/></filter>
<filter id="b1" x="-20%" y="-20%" width="140%" height="140%"><feGaussianBlur stdDeviation="0.9"/></filter>
<filter id="b2" x="-30%" y="-30%" width="160%" height="160%"><feGaussianBlur stdDeviation="2"/></filter>
<filter id="b4" x="-40%" y="-40%" width="180%" height="180%"><feGaussianBlur stdDeviation="4"/></filter>
<filter id="gn" x="-5%" y="-5%" width="110%" height="110%"><feGaussianBlur in="SourceGraphic" stdDeviation="0.85" result="b"/><feTurbulence type="fractalNoise" baseFrequency="0.3" numOctaves="2" seed="5" result="n"/><feColorMatrix in="n" type="matrix" values="0 0 0 0 0.03  0 0 0 0 0.02  0 0 0 0 0.24  2.0 0 0 0 -0.72" result="na"/><feComposite in="na" in2="b" operator="in" result="nm"/><feMerge result="mm"><feMergeNode in="b"/><feMergeNode in="nm"/></feMerge><feGaussianBlur in="mm" stdDeviation="0.45"/></filter>
<filter id="gy2" x="-5%" y="-5%" width="110%" height="110%"><feGaussianBlur in="SourceGraphic" stdDeviation="1.0" result="b"/><feTurbulence type="fractalNoise" baseFrequency="0.26" numOctaves="3" seed="9" result="n"/><feColorMatrix in="n" type="matrix" values="0 0 0 0 0.26  0 0 0 0 0.3  0 0 0 0 0.02  2.0 0 0 0 -0.7" result="na"/><feComposite in="na" in2="b" operator="in" result="nm"/><feMerge><feMergeNode in="b"/><feMergeNode in="nm"/></feMerge></filter>
<filter id="gb4" x="-20%" y="-20%" width="140%" height="140%"><feGaussianBlur in="SourceGraphic" stdDeviation="3.2" result="b"/><feTurbulence type="fractalNoise" baseFrequency="0.22" numOctaves="2" seed="4" result="n"/><feColorMatrix in="n" type="matrix" values="0 0 0 0 0.01  0 0 0 0 0.01  0 0 0 0 0.08  2.6 0 0 0 -0.8" result="na"/><feComposite in="na" in2="b" operator="in" result="nm"/><feMerge><feMergeNode in="b"/><feMergeNode in="nm"/></feMerge></filter>
<filter id="gy3" x="-20%" y="-20%" width="140%" height="140%"><feGaussianBlur in="SourceGraphic" stdDeviation="1.7" result="b"/><feTurbulence type="fractalNoise" baseFrequency="0.17" numOctaves="3" seed="12" result="n"/><feColorMatrix in="n" type="matrix" values="0 0 0 0 0.14  0 0 0 0 0.15  0 0 0 0 0.03  3.2 0 0 0 -1.2" result="na"/><feComposite in="na" in2="b" operator="in" result="nm"/><feMerge><feMergeNode in="b"/><feMergeNode in="nm"/></feMerge></filter>
<filter id="gn2" x="-20%" y="-20%" width="140%" height="140%"><feGaussianBlur in="SourceGraphic" stdDeviation="1.2" result="b"/><feTurbulence type="fractalNoise" baseFrequency="0.3" numOctaves="2" seed="8" result="n"/><feColorMatrix in="n" type="matrix" values="0 0 0 0 0.03  0 0 0 0 0.02  0 0 0 0 0.2  2.6 0 0 0 -0.85" result="na"/><feComposite in="na" in2="b" operator="in" result="nm"/><feMerge><feMergeNode in="b"/><feMergeNode in="nm"/></feMerge></filter>
<filter id="gm3" x="-20%" y="-20%" width="140%" height="140%"><feGaussianBlur in="SourceGraphic" stdDeviation="1.7" result="b"/><feTurbulence type="fractalNoise" baseFrequency="0.2" numOctaves="3" seed="21" result="n"/><feColorMatrix in="n" type="matrix" values="0 0 0 0 0.2  0 0 0 0 0.03  0 0 0 0 0.26  2.6 0 0 0 -1.0" result="na"/><feComposite in="na" in2="b" operator="in" result="nm"/><feMerge><feMergeNode in="b"/><feMergeNode in="nm"/></feMerge></filter>
<filter id="gn3" x="-20%" y="-20%" width="140%" height="140%"><feGaussianBlur in="SourceGraphic" stdDeviation="1.8" result="b"/><feTurbulence type="fractalNoise" baseFrequency="0.28" numOctaves="2" seed="15" result="n"/><feColorMatrix in="n" type="matrix" values="0 0 0 0 0.25  0 0 0 0 0.1  0 0 0 0 0.6  1.8 0 0 0 -0.65" result="na"/><feComposite in="na" in2="b" operator="in" result="nm"/><feMerge><feMergeNode in="b"/><feMergeNode in="nm"/></feMerge></filter>
<filter id="b8" x="-50%" y="-50%" width="200%" height="200%"><feGaussianBlur stdDeviation="8"/></filter>
<radialGradient id="gy" cx="50%" cy="50%" r="50%"><stop offset="0" stop-color="#a4aa28"/><stop offset="0.55" stop-color="#acb22c"/><stop offset="0.82" stop-color="#c2c83a"/><stop offset="0.95" stop-color="#d0d646"/><stop offset="1" stop-color="#b4ba34"/></radialGradient>
<radialGradient id="gm" cx="50%" cy="48%" r="52%"><stop offset="0" stop-color="#4e1a68"/><stop offset="0.45" stop-color="#601c72"/><stop offset="0.74" stop-color="#902284"/><stop offset="0.9" stop-color="#9c2488"/><stop offset="1" stop-color="#741a6e"/></radialGradient>
</defs>
<g clip-path="url(#cm)">
<rect x="17.5" y="357.6" width="196.3" height="214.9" fill="#03031a"/>
<g filter="url(#b8)" opacity="0.2">
<path d="M75 358 L120 358 L118 400 L140 450 L120 480 L125 510 L213 480 L213 572 L100 572 L95 520 L60 505 L30 500 L20 572 L17 572 L17 465 L66 445 L72 380 Z" fill="#1a1480"/>
<ellipse cx="150" cy="540" rx="60" ry="30" fill="#1a1480"/>
<ellipse cx="160" cy="535" rx="55" ry="32" fill="#221aa0"/>
<ellipse cx="100" cy="460" rx="30" ry="40" fill="#1a1480"/>
</g>
<g filter="url(#gn)">
<ellipse cx="106.1" cy="478.1" rx="4.8" ry="4.9" fill="#2e25b0"/>
<ellipse cx="117.2" cy="484.2" rx="5.5" ry="5.0" fill="#211a8c"/>
<ellipse cx="141.7" cy="529.2" rx="4.4" ry="3.9" fill="#261f9e"/>
<ellipse cx="212.2" cy="566.8" rx="3.9" ry="4.9" fill="#3a30cc"/>
<ellipse cx="47.0" cy="358.9" rx="3.8" ry="4.3" fill="#1b157a"/>
<ellipse cx="21.5" cy="457.2" rx="4.7" ry="4.4" fill="#2a22a8"/>
<ellipse cx="103.7" cy="540.0" rx="4.2" ry="5.2" fill="#261f9e"/>
<ellipse cx="119.5" cy="495.8" rx="3.9" ry="3.9" fill="#1e1884"/>
<ellipse cx="107.1" cy="416.5" rx="5.2" ry="3.9" fill="#211a8c"/>
<ellipse cx="183.8" cy="510.5" rx="4.9" ry="5.4" fill="#261f9e"/>
<ellipse cx="73.4" cy="371.0" rx="4.6" ry="5.2" fill="#4036d6"/>
<ellipse cx="207.4" cy="541.1" rx="3.2" ry="3.8" fill="#352bc0"/>
<ellipse cx="15.6" cy="401.5" rx="5.3" ry="5.0" fill="#261f9e"/>
<ellipse cx="30.1" cy="493.4" rx="3.7" ry="4.6" fill="#1b157a"/>
<ellipse cx="208.6" cy="521.5" rx="5.1" ry="4.8" fill="#4036d6"/>
<ellipse cx="35.7" cy="368.7" rx="5.4" ry="5.6" fill="#1e1884"/>
<ellipse cx="127.5" cy="453.5" rx="4.9" ry="4.5" fill="#211a8c"/>
<ellipse cx="53.7" cy="515.8" rx="4.6" ry="4.8" fill="#261f9e"/>
<ellipse cx="41.7" cy="496.5" rx="4.8" ry="4.2" fill="#1e1884"/>
<ellipse cx="210.0" cy="531.5" rx="4.7" ry="4.0" fill="#261f9e"/>
<ellipse cx="57.7" cy="441.9" rx="4.0" ry="4.7" fill="#1b157a"/>
<ellipse cx="186.6" cy="496.1" rx="5.2" ry="5.0" fill="#261f9e"/>
<ellipse cx="35.6" cy="572.2" rx="5.1" ry="4.8" fill="#1b157a"/>
<ellipse cx="33.6" cy="483.2" rx="4.1" ry="3.3" fill="#261f9e"/>
<ellipse cx="64.2" cy="487.2" rx="4.3" ry="5.0" fill="#1b157a"/>
<ellipse cx="90.0" cy="454.8" rx="4.2" ry="4.5" fill="#2e25b0"/>
<ellipse cx="207.6" cy="461.5" rx="4.1" ry="4.6" fill="#121050"/>
<ellipse cx="130.6" cy="545.3" rx="5.7" ry="4.5" fill="#1e1884"/>
<ellipse cx="197.5" cy="534.6" rx="5.8" ry="5.8" fill="#2a22a8"/>
<ellipse cx="65.5" cy="397.1" rx="4.3" ry="5.0" fill="#211a8c"/>
<ellipse cx="163.6" cy="561.5" rx="4.5" ry="5.1" fill="#211a8c"/>
<ellipse cx="54.9" cy="563.6" rx="4.0" ry="3.8" fill="#261f9e"/>
<ellipse cx="192.2" cy="487.7" rx="5.1" ry="4.5" fill="#2a22a8"/>
<ellipse cx="99.9" cy="378.3" rx="4.2" ry="3.6" fill="#1b157a"/>
<ellipse cx="23.3" cy="566.3" rx="5.1" ry="4.6" fill="#181462"/>
<ellipse cx="63.3" cy="509.8" rx="4.4" ry="4.8" fill="#261f9e"/>
<ellipse cx="135.0" cy="419.8" rx="3.5" ry="3.7" fill="#2a22a8"/>
<ellipse cx="199.2" cy="400.3" rx="4.7" ry="5.5" fill="#121050"/>
<ellipse cx="104.8" cy="368.8" rx="4.2" ry="4.9" fill="#2e25b0"/>
<ellipse cx="50.8" cy="436.3" rx="4.8" ry="3.7" fill="#181462"/>
<ellipse cx="211.9" cy="499.4" rx="4.7" ry="4.2" fill="#4036d6"/>
<ellipse cx="155.9" cy="566.4" rx="4.3" ry="4.3" fill="#2e25b0"/>
<ellipse cx="19.8" cy="494.9" rx="4.4" ry="4.2" fill="#2a22a8"/>
<ellipse cx="112.1" cy="515.5" rx="5.7" ry="4.8" fill="#1e1884"/>
<ellipse cx="79.4" cy="574.4" rx="4.0" ry="3.5" fill="#2a22a8"/>
<ellipse cx="30.6" cy="475.1" rx="4.2" ry="5.1" fill="#1e1884"/>
<ellipse cx="163.1" cy="552.7" rx="3.7" ry="4.1" fill="#2e25b0"/>
<ellipse cx="163.1" cy="509.6" rx="3.8" ry="4.0" fill="#211a8c"/>
<ellipse cx="174.4" cy="555.9" rx="5.7" ry="4.3" fill="#2a22a8"/>
<ellipse cx="86.0" cy="505.6" rx="3.8" ry="4.4" fill="#261f9e"/>
<ellipse cx="195.9" cy="546.3" rx="4.3" ry="3.9" fill="#261f9e"/>
<ellipse cx="99.1" cy="528.6" rx="4.4" ry="4.3" fill="#1e1884"/>
<ellipse cx="140.7" cy="439.3" rx="4.3" ry="4.0" fill="#2a22a8"/>
<ellipse cx="214.5" cy="548.2" rx="4.3" ry="4.1" fill="#1e1884"/>
<ellipse cx="111.8" cy="406.0" rx="4.8" ry="4.0" fill="#1b157a"/>
<ellipse cx="138.6" cy="557.1" rx="3.8" ry="4.3" fill="#4036d6"/>
<ellipse cx="66.7" cy="358.1" rx="4.3" ry="4.2" fill="#1e1884"/>
<ellipse cx="75.8" cy="504.0" rx="4.2" ry="4.5" fill="#261f9e"/>
<ellipse cx="196.9" cy="500.1" rx="4.4" ry="4.6" fill="#1b157a"/>
<ellipse cx="104.0" cy="550.8" rx="3.7" ry="3.8" fill="#2a22a8"/>
<ellipse cx="55.3" cy="449.9" rx="5.2" ry="5.1" fill="#211a8c"/>
<ellipse cx="42.8" cy="464.3" rx="3.6" ry="3.5" fill="#2e25b0"/>
<ellipse cx="183.2" cy="541.4" rx="3.8" ry="3.6" fill="#4036d6"/>
<ellipse cx="212.2" cy="454.6" rx="4.1" ry="3.5" fill="#121050"/>
<ellipse cx="30.5" cy="362.5" rx="4.7" ry="4.3" fill="#1e1884"/>
<ellipse cx="190.3" cy="364.7" rx="4.6" ry="4.4" fill="#352bc0"/>
<ellipse cx="106.6" cy="361.0" rx="4.6" ry="4.1" fill="#211a8c"/>
<ellipse cx="181.7" cy="407.6" rx="4.4" ry="3.6" fill="#1b157a"/>
<ellipse cx="141.5" cy="453.3" rx="4.1" ry="3.8" fill="#1e1884"/>
<ellipse cx="177.2" cy="565.4" rx="3.7" ry="3.7" fill="#3a30cc"/>
<ellipse cx="110.7" cy="394.7" rx="4.6" ry="4.9" fill="#261f9e"/>
<ellipse cx="70.1" cy="431.3" rx="4.4" ry="5.3" fill="#211a8c"/>
<ellipse cx="202.3" cy="513.7" rx="5.1" ry="4.4" fill="#211a8c"/>
<ellipse cx="91.0" cy="480.1" rx="3.9" ry="3.6" fill="#2e25b0"/>
<ellipse cx="160.1" cy="534.7" rx="4.6" ry="4.4" fill="#2a22a8"/>
<ellipse cx="144.0" cy="512.7" rx="3.6" ry="4.4" fill="#2e25b0"/>
<ellipse cx="123.1" cy="528.7" rx="5.5" ry="5.4" fill="#261f9e"/>
<ellipse cx="205.6" cy="374.4" rx="3.7" ry="4.1" fill="#15125a"/>
<ellipse cx="59.8" cy="470.9" rx="3.6" ry="3.7" fill="#2e25b0"/>
<ellipse cx="184.5" cy="478.2" rx="3.8" ry="3.9" fill="#1b157a"/>
<ellipse cx="77.9" cy="439.0" rx="4.4" ry="5.2" fill="#2e25b0"/>
<ellipse cx="184.8" cy="552.7" rx="3.6" ry="4.4" fill="#3a30cc"/>
<ellipse cx="123.4" cy="446.2" rx="4.4" ry="5.1" fill="#261f9e"/>
<ellipse cx="207.2" cy="557.7" rx="4.3" ry="5.2" fill="#2a22a8"/>
<ellipse cx="69.4" cy="459.2" rx="4.3" ry="4.6" fill="#1e1884"/>
<ellipse cx="110.9" cy="425.0" rx="5.2" ry="5.2" fill="#261f9e"/>
<ellipse cx="53.8" cy="490.9" rx="5.8" ry="5.0" fill="#261f9e"/>
<ellipse cx="200.8" cy="383.9" rx="4.6" ry="4.4" fill="#181462"/>
<ellipse cx="86.7" cy="491.3" rx="4.2" ry="4.4" fill="#1e1884"/>
<ellipse cx="90.8" cy="446.1" rx="4.2" ry="4.3" fill="#2e25b0"/>
<ellipse cx="59.2" cy="574.1" rx="4.9" ry="4.9" fill="#2e25b0"/>
<ellipse cx="67.5" cy="376.8" rx="3.4" ry="4.0" fill="#1b157a"/>
<ellipse cx="96.2" cy="505.6" rx="4.0" ry="5.0" fill="#1e1884"/>
<ellipse cx="152.2" cy="555.1" rx="5.1" ry="4.2" fill="#2e25b0"/>
<ellipse cx="116.2" cy="505.7" rx="4.8" ry="3.8" fill="#2a22a8"/>
<ellipse cx="53.4" cy="371.0" rx="4.7" ry="4.8" fill="#1b157a"/>
<ellipse cx="183.8" cy="572.4" rx="3.8" ry="4.9" fill="#352bc0"/>
<ellipse cx="108.1" cy="523.0" rx="4.6" ry="4.7" fill="#261f9e"/>
<ellipse cx="81.0" cy="457.8" rx="4.0" ry="4.4" fill="#2a22a8"/>
<ellipse cx="118.2" cy="359.0" rx="4.3" ry="5.0" fill="#1b157a"/>
<ellipse cx="156.6" cy="544.0" rx="3.4" ry="4.0" fill="#1b157a"/>
<ellipse cx="164.6" cy="525.9" rx="5.4" ry="5.2" fill="#211a8c"/>
<ellipse cx="154.7" cy="523.6" rx="4.3" ry="4.7" fill="#261f9e"/>
<ellipse cx="211.8" cy="360.6" rx="3.8" ry="3.8" fill="#15125a"/>
<ellipse cx="66.9" cy="443.5" rx="4.7" ry="4.7" fill="#4036d6"/>
<ellipse cx="90.7" cy="377.2" rx="4.0" ry="4.1" fill="#2e25b0"/>
<ellipse cx="88.7" cy="418.2" rx="4.0" ry="3.7" fill="#2e25b0"/>
<ellipse cx="72.3" cy="512.5" rx="4.0" ry="4.6" fill="#261f9e"/>
<ellipse cx="74.8" cy="358.7" rx="4.1" ry="4.5" fill="#2e25b0"/>
<ellipse cx="46.9" cy="520.8" rx="3.9" ry="4.5" fill="#2e25b0"/>
<ellipse cx="93.6" cy="552.1" rx="4.3" ry="5.3" fill="#3a30cc"/>
<ellipse cx="101.5" cy="460.1" rx="4.3" ry="4.9" fill="#2a22a8"/>
<ellipse cx="120.3" cy="560.8" rx="4.0" ry="3.8" fill="#1e1884"/>
<ellipse cx="104.2" cy="501.8" rx="4.8" ry="5.1" fill="#211a8c"/>
<ellipse cx="162.6" cy="407.8" rx="4.7" ry="4.7" fill="#1b157a"/>
<ellipse cx="172.6" cy="492.4" rx="3.9" ry="4.0" fill="#211a8c"/>
<ellipse cx="23.4" cy="368.9" rx="4.0" ry="3.7" fill="#1e1884"/>
<ellipse cx="32.8" cy="503.6" rx="4.4" ry="5.0" fill="#352bc0"/>
<ellipse cx="146.4" cy="572.1" rx="5.2" ry="4.9" fill="#1b157a"/>
<ellipse cx="80.7" cy="475.7" rx="4.3" ry="4.0" fill="#1e1884"/>
<ellipse cx="101.2" cy="436.4" rx="4.2" ry="4.9" fill="#3a30cc"/>
<ellipse cx="58.2" cy="500.5" rx="4.5" ry="4.4" fill="#2e25b0"/>
<ellipse cx="72.2" cy="386.9" rx="4.2" ry="3.9" fill="#261f9e"/>
<ellipse cx="87.2" cy="514.5" rx="4.1" ry="4.3" fill="#352bc0"/>
<ellipse cx="88.7" cy="435.1" rx="5.4" ry="5.1" fill="#211a8c"/>
<ellipse cx="54.6" cy="479.0" rx="4.0" ry="4.7" fill="#261f9e"/>
<ellipse cx="20.0" cy="468.5" rx="4.1" ry="4.3" fill="#2e25b0"/>
<ellipse cx="145.5" cy="409.3" rx="3.8" ry="4.0" fill="#1e1884"/>
<ellipse cx="94.5" cy="429.5" rx="4.1" ry="4.1" fill="#1e1884"/>
<ellipse cx="114.4" cy="473.2" rx="4.0" ry="4.3" fill="#3a30cc"/>
<ellipse cx="186.5" cy="532.0" rx="3.7" ry="3.6" fill="#1b157a"/>
<ellipse cx="99.7" cy="387.6" rx="5.1" ry="4.8" fill="#1e1884"/>
<ellipse cx="164.0" cy="572.5" rx="3.3" ry="3.3" fill="#3a30cc"/>
<ellipse cx="90.7" cy="392.3" rx="3.4" ry="3.3" fill="#3a30cc"/>
<ellipse cx="74.0" cy="567.9" rx="4.4" ry="4.7" fill="#1b157a"/>
<ellipse cx="134.6" cy="404.6" rx="4.7" ry="4.3" fill="#2a22a8"/>
<ellipse cx="179.2" cy="460.6" rx="4.8" ry="4.5" fill="#261f9e"/>
<ellipse cx="121.2" cy="468.5" rx="4.8" ry="4.6" fill="#1b157a"/>
<ellipse cx="89.9" cy="530.0" rx="4.2" ry="3.8" fill="#1e1884"/>
<ellipse cx="68.9" cy="472.6" rx="4.4" ry="4.0" fill="#211a8c"/>
<ellipse cx="15.8" cy="535.4" rx="3.8" ry="3.5" fill="#1b157a"/>
<ellipse cx="111.7" cy="458.2" rx="4.6" ry="5.2" fill="#261f9e"/>
<ellipse cx="77.9" cy="423.6" rx="3.9" ry="4.0" fill="#352bc0"/>
<ellipse cx="17.6" cy="572.7" rx="4.6" ry="5.2" fill="#4036d6"/>
<ellipse cx="169.1" cy="535.3" rx="4.8" ry="4.7" fill="#1b157a"/>
<ellipse cx="98.1" cy="359.0" rx="4.6" ry="5.4" fill="#1e1884"/>
<ellipse cx="180.8" cy="489.4" rx="5.6" ry="4.6" fill="#352bc0"/>
<ellipse cx="196.4" cy="475.6" rx="4.4" ry="4.3" fill="#2e25b0"/>
<ellipse cx="86.1" cy="465.1" rx="4.1" ry="4.8" fill="#2a22a8"/>
<ellipse cx="43.9" cy="511.8" rx="4.3" ry="4.2" fill="#1e1884"/>
<ellipse cx="131.0" cy="508.2" rx="3.8" ry="3.7" fill="#1e1884"/>
<ellipse cx="127.7" cy="413.5" rx="5.1" ry="5.6" fill="#261f9e"/>
<ellipse cx="181.9" cy="396.2" rx="4.4" ry="4.5" fill="#2e25b0"/>
<ellipse cx="176.5" cy="359.2" rx="3.3" ry="4.2" fill="#1e1884"/>
<ellipse cx="55.5" cy="458.1" rx="3.8" ry="4.1" fill="#261f9e"/>
<ellipse cx="119.6" cy="413.3" rx="4.6" ry="5.1" fill="#261f9e"/>
<ellipse cx="129.3" cy="428.3" rx="4.4" ry="3.8" fill="#1b157a"/>
<ellipse cx="109.6" cy="445.7" rx="4.4" ry="5.5" fill="#2e25b0"/>
<ellipse cx="97.4" cy="450.6" rx="4.2" ry="4.7" fill="#2a22a8"/>
<ellipse cx="128.9" cy="553.8" rx="4.3" ry="3.7" fill="#2e25b0"/>
<ellipse cx="40.3" cy="473.3" rx="3.8" ry="3.6" fill="#1b157a"/>
<ellipse cx="71.0" cy="495.7" rx="5.7" ry="5.2" fill="#4036d6"/>
<ellipse cx="116.8" cy="540.7" rx="5.0" ry="4.7" fill="#1b157a"/>
<ellipse cx="88.5" cy="403.0" rx="5.2" ry="4.3" fill="#352bc0"/>
<ellipse cx="213.0" cy="387.2" rx="3.9" ry="4.4" fill="#181462"/>
<ellipse cx="168.4" cy="516.3" rx="4.1" ry="4.2" fill="#261f9e"/>
<ellipse cx="212.0" cy="489.3" rx="4.4" ry="4.2" fill="#3a30cc"/>
<ellipse cx="23.4" cy="443.8" rx="3.7" ry="4.2" fill="#15125a"/>
<ellipse cx="94.2" cy="540.1" rx="5.3" ry="4.3" fill="#261f9e"/>
<ellipse cx="119.5" cy="367.6" rx="3.6" ry="4.1" fill="#4036d6"/>
<ellipse cx="78.0" cy="448.4" rx="4.5" ry="4.9" fill="#2a22a8"/>
<ellipse cx="160.8" cy="501.4" rx="5.1" ry="5.5" fill="#1e1884"/>
<ellipse cx="58.7" cy="364.5" rx="4.1" ry="3.4" fill="#211a8c"/>
<ellipse cx="48.9" cy="501.2" rx="4.7" ry="5.4" fill="#261f9e"/>
<ellipse cx="45.7" cy="483.1" rx="3.4" ry="4.1" fill="#261f9e"/>
<ellipse cx="127.8" cy="537.5" rx="4.6" ry="4.7" fill="#2e25b0"/>
<ellipse cx="80.6" cy="394.5" rx="5.2" ry="4.7" fill="#2a22a8"/>
<ellipse cx="170.2" cy="460.8" rx="4.0" ry="4.0" fill="#1b157a"/>
<ellipse cx="113.3" cy="381.9" rx="5.3" ry="5.4" fill="#261f9e"/>
<ellipse cx="77.6" cy="468.2" rx="3.4" ry="3.6" fill="#352bc0"/>
<ellipse cx="181.3" cy="523.7" rx="4.6" ry="5.2" fill="#4036d6"/>
<ellipse cx="213.0" cy="377.7" rx="4.4" ry="4.4" fill="#121050"/>
<ellipse cx="175.3" cy="467.6" rx="4.9" ry="4.9" fill="#1b157a"/>
<ellipse cx="214.5" cy="369.8" rx="4.2" ry="3.8" fill="#3a30cc"/>
<ellipse cx="191.1" cy="514.9" rx="4.5" ry="4.4" fill="#352bc0"/>
<ellipse cx="204.0" cy="489.1" rx="3.6" ry="4.4" fill="#1b157a"/>
<ellipse cx="214.8" cy="507.0" rx="3.5" ry="3.7" fill="#352bc0"/>
<ellipse cx="109.5" cy="434.8" rx="3.7" ry="3.3" fill="#211a8c"/>
<ellipse cx="171.2" cy="409.6" rx="3.9" ry="4.3" fill="#3a30cc"/>
<ellipse cx="96.9" cy="489.6" rx="4.3" ry="4.6" fill="#2a22a8"/>
<ellipse cx="144.3" cy="541.2" rx="3.9" ry="4.6" fill="#1b157a"/>
<ellipse cx="115.8" cy="553.5" rx="3.9" ry="3.5" fill="#2e25b0"/>
<ellipse cx="25.4" cy="538.5" rx="4.5" ry="4.9" fill="#15125a"/>
<ellipse cx="134.4" cy="565.9" rx="4.2" ry="4.3" fill="#2a22a8"/>
<ellipse cx="118.9" cy="520.6" rx="5.3" ry="4.8" fill="#2e25b0"/>
<ellipse cx="131.6" cy="356.8" rx="5.2" ry="4.5" fill="#2a22a8"/>
<ellipse cx="190.5" cy="390.6" rx="4.0" ry="4.0" fill="#1b157a"/>
<ellipse cx="21.4" cy="480.6" rx="4.6" ry="4.4" fill="#1e1884"/>
<ellipse cx="121.1" cy="396.0" rx="4.8" ry="5.5" fill="#2e25b0"/>
<ellipse cx="121.0" cy="433.1" rx="4.5" ry="4.1" fill="#3a30cc"/>
<ellipse cx="187.5" cy="560.3" rx="4.4" ry="3.8" fill="#2e25b0"/>
<ellipse cx="98.5" cy="572.3" rx="4.2" ry="4.3" fill="#2e25b0"/>
<ellipse cx="173.7" cy="526.8" rx="5.4" ry="5.2" fill="#2e25b0"/>
<ellipse cx="110.8" cy="534.7" rx="3.8" ry="3.4" fill="#4036d6"/>
<ellipse cx="84.0" cy="559.3" rx="4.4" ry="5.3" fill="#2a22a8"/>
<ellipse cx="85.1" cy="366.4" rx="4.3" ry="4.3" fill="#261f9e"/>
<ellipse cx="200.6" cy="465.9" rx="4.0" ry="4.0" fill="#1b157a"/>
<ellipse cx="107.6" cy="487.6" rx="4.0" ry="3.7" fill="#3a30cc"/>
<ellipse cx="99.0" cy="473.8" rx="3.4" ry="3.8" fill="#2a22a8"/>
<ellipse cx="117.4" cy="571.1" rx="4.9" ry="4.6" fill="#3a30cc"/>
<ellipse cx="33.5" cy="464.5" rx="4.0" ry="4.4" fill="#2e25b0"/>
<ellipse cx="189.3" cy="523.9" rx="4.7" ry="5.1" fill="#3a30cc"/>
<ellipse cx="172.8" cy="546.8" rx="4.5" ry="4.4" fill="#1e1884"/>
<ellipse cx="78.8" cy="415.3" rx="4.2" ry="4.1" fill="#2e25b0"/>
<ellipse cx="198.1" cy="419.2" rx="4.7" ry="3.9" fill="#1b157a"/>
<ellipse cx="146.9" cy="502.0" rx="3.8" ry="4.7" fill="#211a8c"/>
<ellipse cx="154.1" cy="506.7" rx="3.6" ry="3.8" fill="#211a8c"/>
<ellipse cx="191.4" cy="403.4" rx="4.7" ry="5.4" fill="#1e1884"/>
<ellipse cx="45.6" cy="566.7" rx="4.6" ry="3.9" fill="#2a22a8"/>
<ellipse cx="77.7" cy="485.2" rx="5.0" ry="4.1" fill="#261f9e"/>
<ellipse cx="128.3" cy="439.4" rx="5.8" ry="4.5" fill="#2a22a8"/>
<ellipse cx="117.2" cy="440.5" rx="5.3" ry="4.3" fill="#261f9e"/>
<ellipse cx="82.8" cy="357.6" rx="4.3" ry="4.3" fill="#1e1884"/>
<ellipse cx="215.6" cy="539.3" rx="3.7" ry="3.7" fill="#1e1884"/>
<ellipse cx="15.7" cy="355.8" rx="5.0" ry="4.5" fill="#1b157a"/>
<ellipse cx="98.4" cy="395.7" rx="4.9" ry="4.5" fill="#261f9e"/>
<ellipse cx="136.4" cy="536.0" rx="3.9" ry="3.6" fill="#2e25b0"/>
<ellipse cx="155.0" cy="514.9" rx="4.7" ry="4.9" fill="#2a22a8"/>
<ellipse cx="191.1" cy="567.9" rx="4.8" ry="4.9" fill="#261f9e"/>
<ellipse cx="86.3" cy="568.4" rx="4.4" ry="3.9" fill="#261f9e"/>
<ellipse cx="214.1" cy="399.5" rx="4.3" ry="4.9" fill="#4036d6"/>
<ellipse cx="136.9" cy="432.1" rx="4.4" ry="4.8" fill="#1e1884"/>
<ellipse cx="37.3" cy="356.4" rx="4.9" ry="4.5" fill="#211a8c"/>
<ellipse cx="95.2" cy="409.2" rx="4.8" ry="5.0" fill="#2a22a8"/>
<ellipse cx="152.0" cy="532.6" rx="4.2" ry="3.3" fill="#4036d6"/>
<ellipse cx="145.1" cy="423.6" rx="3.3" ry="3.4" fill="#4036d6"/>
<ellipse cx="119.3" cy="455.0" rx="3.4" ry="3.8" fill="#211a8c"/>
<ellipse cx="214.9" cy="428.6" rx="3.9" ry="3.5" fill="#3a30cc"/>
<ellipse cx="99.6" cy="560.7" rx="3.9" ry="3.9" fill="#1e1884"/>
<ellipse cx="137.4" cy="499.7" rx="5.2" ry="4.7" fill="#1e1884"/>
<ellipse cx="64.4" cy="564.0" rx="4.4" ry="4.6" fill="#352bc0"/>
<ellipse cx="165.9" cy="357.7" rx="4.7" ry="4.7" fill="#2e25b0"/>
<ellipse cx="26.6" cy="528.0" rx="4.6" ry="5.0" fill="#181462"/>
<ellipse cx="120.2" cy="422.2" rx="4.2" ry="4.0" fill="#211a8c"/>
<ellipse cx="142.9" cy="356.0" rx="4.0" ry="3.9" fill="#261f9e"/>
<ellipse cx="142.0" cy="549.1" rx="5.4" ry="4.3" fill="#2a22a8"/>
<ellipse cx="172.0" cy="502.0" rx="5.0" ry="3.9" fill="#261f9e"/>
<ellipse cx="185.4" cy="358.3" rx="5.0" ry="5.5" fill="#2e25b0"/>
<ellipse cx="47.5" cy="554.3" rx="5.1" ry="4.5" fill="#1b157a"/>
<ellipse cx="126.5" cy="570.4" rx="3.8" ry="4.8" fill="#1b157a"/>
<ellipse cx="153.4" cy="413.3" rx="5.1" ry="4.5" fill="#2e25b0"/>
<ellipse cx="97.2" cy="517.7" rx="4.2" ry="4.6" fill="#1e1884"/>
<ellipse cx="128.8" cy="498.9" rx="5.0" ry="4.4" fill="#2e25b0"/>
<ellipse cx="70.5" cy="406.1" rx="4.0" ry="3.8" fill="#4036d6"/>
<ellipse cx="191.4" cy="414.0" rx="4.7" ry="4.4" fill="#2e25b0"/>
<ellipse cx="123.5" cy="403.7" rx="4.7" ry="4.6" fill="#1b157a"/>
<ellipse cx="94.6" cy="464.7" rx="4.9" ry="5.1" fill="#261f9e"/>
<ellipse cx="175.1" cy="574.3" rx="4.1" ry="3.6" fill="#4036d6"/>
<ellipse cx="77.3" cy="379.0" rx="4.4" ry="5.0" fill="#4036d6"/>
<ellipse cx="45.5" cy="453.6" rx="4.0" ry="4.4" fill="#352bc0"/>
<ellipse cx="215.8" cy="517.2" rx="4.5" ry="3.8" fill="#2a22a8"/>
<ellipse cx="189.7" cy="378.6" rx="4.3" ry="4.3" fill="#2e25b0"/>
<ellipse cx="201.1" cy="552.4" rx="4.1" ry="4.1" fill="#261f9e"/>
<ellipse cx="96.3" cy="371.1" rx="4.4" ry="4.9" fill="#211a8c"/>
<ellipse cx="39.0" cy="543.0" rx="3.2" ry="4.1" fill="#181462"/>
<ellipse cx="85.5" cy="383.8" rx="4.3" ry="4.9" fill="#1e1884"/>
<ellipse cx="41.7" cy="528.2" rx="4.2" ry="4.3" fill="#261f9e"/>
<ellipse cx="15.5" cy="510.6" rx="3.6" ry="4.2" fill="#2e25b0"/>
<ellipse cx="122.7" cy="546.7" rx="4.4" ry="3.4" fill="#352bc0"/>
<ellipse cx="190.9" cy="506.5" rx="4.7" ry="5.3" fill="#352bc0"/>
<ellipse cx="103.7" cy="408.9" rx="4.3" ry="3.7" fill="#2a22a8"/>
<ellipse cx="96.7" cy="417.6" rx="4.9" ry="4.7" fill="#2e25b0"/>
<ellipse cx="105.8" cy="469.4" rx="4.2" ry="4.4" fill="#3a30cc"/>
<ellipse cx="205.8" cy="505.1" rx="3.8" ry="4.1" fill="#2e25b0"/>
<ellipse cx="123.6" cy="512.6" rx="4.3" ry="4.2" fill="#2e25b0"/>
<ellipse cx="199.4" cy="524.2" rx="5.0" ry="4.3" fill="#261f9e"/>
<ellipse cx="175.9" cy="481.8" rx="4.6" ry="5.4" fill="#3a30cc"/>
<ellipse cx="176.8" cy="514.8" rx="3.5" ry="4.1" fill="#211a8c"/>
<ellipse cx="102.9" cy="424.6" rx="4.8" ry="4.4" fill="#211a8c"/>
<ellipse cx="111.4" cy="495.2" rx="3.7" ry="4.1" fill="#1b157a"/>
<ellipse cx="55.9" cy="355.9" rx="4.4" ry="4.1" fill="#211a8c"/>
<ellipse cx="44.3" cy="367.0" rx="5.0" ry="4.3" fill="#1b157a"/>
<ellipse cx="109.0" cy="558.3" rx="4.0" ry="4.0" fill="#3a30cc"/>
<ellipse cx="81.4" cy="498.1" rx="4.5" ry="4.2" fill="#261f9e"/>
<ellipse cx="70.3" cy="481.7" rx="4.6" ry="4.2" fill="#2a22a8"/>
<ellipse cx="149.5" cy="449.6" rx="3.4" ry="3.9" fill="#1e1884"/>
<ellipse cx="15.9" cy="365.8" rx="5.1" ry="5.7" fill="#261f9e"/>
<ellipse cx="102.4" cy="510.7" rx="3.9" ry="4.2" fill="#1e1884"/>
<ellipse cx="156.2" cy="355.9" rx="4.3" ry="4.2" fill="#261f9e"/>
<ellipse cx="165.6" cy="543.0" rx="3.8" ry="4.0" fill="#261f9e"/>
<ellipse cx="147.5" cy="562.6" rx="4.4" ry="4.5" fill="#1b157a"/>
<ellipse cx="130.0" cy="521.5" rx="4.1" ry="4.0" fill="#261f9e"/>
<ellipse cx="92.1" cy="497.4" rx="3.9" ry="4.4" fill="#1b157a"/>
<ellipse cx="203.9" cy="426.3" rx="3.3" ry="4.3" fill="#15125a"/>
<ellipse cx="65.3" cy="451.4" rx="3.6" ry="3.8" fill="#211a8c"/>
<ellipse cx="68.0" cy="573.9" rx="5.6" ry="5.0" fill="#1b157a"/>
<ellipse cx="40.2" cy="374.6" rx="4.7" ry="4.5" fill="#4a42d8"/>
<ellipse cx="53.5" cy="379.5" rx="2.2" ry="1.8" fill="#221c88"/>
</g>
<g filter="url(#gy2)" stroke="#8c9222" stroke-width="1.2">
<path d="M140 452 C155 449 170 455 176 468 C180 478 176 488 168.6 493 C160 500 152 503 146 503.4 C136 503 128 500 124 495 C118 489 116 482 117.5 476 C118.5 466 126 456 140 452 Z" fill="url(#gy)"/>
<path d="M122 352 L182 352 C188 362 191 370 189.5 378 C186 390 178 396 170 399 C162 404 154 407.5 146 407.5 C136 407 128 404 124 399 C118 392 115.5 386 116 380 C116 370 118 362 122 352 Z" fill="url(#gy)"/>
<path d="M170.6 406.5 C180 406.5 186 410 191 414 C198 420 203 426 203 433 C203 442 200 447 196.5 450.5 C190 457 184 460.5 176 461 C166 461 160 458.5 154 454 C146 448 142 442 142.3 435.5 C142.5 426 146 420 150.5 415.5 C156 410 163 407 170.6 406.5 Z" fill="url(#gy)"/>
<path d="M43.8 522.0 C45.1 517.1 42.9 519.7 46.0 516.9 C49.1 514.1 48.3 515.7 53.0 513.6 C57.7 511.5 55.7 510.7 60.2 510.6 C64.7 510.5 62.3 510.9 66.5 513.2 C70.7 515.5 67.8 514.8 72.7 517.6 C77.6 520.4 75.9 518.3 81.3 521.5 C86.7 524.7 85.0 523.1 89.0 527.3 C93.0 531.5 91.5 529.3 93.2 534.0 C94.9 538.7 94.1 536.3 94.2 541.5 C94.3 546.7 94.5 544.6 93.6 549.5 C92.7 554.4 94.0 552.4 91.6 556.2 C89.2 560.0 90.2 558.2 86.5 560.8 C82.8 563.4 85.0 562.2 80.4 563.9 C75.8 565.6 78.0 565.2 72.7 566.0 C67.4 566.8 69.6 566.6 64.5 566.2 C59.4 565.8 61.6 565.9 57.3 564.8 C53.0 563.7 54.8 564.6 51.5 562.8 C48.2 561.0 49.8 562.9 47.4 559.5 C45.0 556.1 46.0 557.5 44.2 552.5 C42.4 547.5 42.9 549.3 42.0 544.6 C41.1 539.9 41.6 542.9 41.6 538.5 C41.6 534.1 41.3 537.0 42.0 531.5 C42.7 526.0 42.5 526.9 43.8 522.0 Z" fill="url(#gy)"/>
<ellipse cx="128.8" cy="517.8" rx="6.2" ry="5.3" fill="#8e9322"/>
</g>
<g filter="url(#b1)" fill="none" stroke="#55550e" opacity="0.5">
<path d="M143 437 C146 447 154 455 166 459.5" stroke-width="1.6"/>
<path d="M120 398 C130 406 150 409 170 400" stroke-width="1.4"/>
<path d="M150.5 415.5 C156 410 163 407 170.6 406.5" stroke-width="1.2"/>
</g>
<g filter="url(#b1)">
<ellipse cx="172.6" cy="423.5" rx="18.5" ry="11.5" fill="#9aa026" fill-opacity="0.5" stroke="#e0e456" stroke-width="1.1" opacity="0.9"/>
<ellipse cx="67.5" cy="543.5" rx="15" ry="13.8" fill="#9aa026" fill-opacity="0.55" stroke="#e2e658" stroke-width="1.2" opacity="0.9"/>
<ellipse cx="162.9" cy="420.2" rx="5.6" ry="5.0" fill="#44446e" stroke="#d0d044" stroke-width="0.6"/>
<ellipse cx="177.6" cy="417.4" rx="3.8" ry="3.3" fill="#6a6a46" stroke="#d0d044" stroke-width="0.6"/>
<ellipse cx="181.0" cy="428.7" rx="5.0" ry="4.4" fill="#50506e" stroke="#d0d044" stroke-width="0.6"/>
<ellipse cx="135.4" cy="374.2" rx="5.4" ry="4.0" fill="#6c6c68" stroke="#d0d044" stroke-width="0.6"/>
<ellipse cx="137.3" cy="388.3" rx="3.0" ry="2.8" fill="#868a24" stroke="#d0d044" stroke-width="0.6"/>
<ellipse cx="60.2" cy="534" rx="4.6" ry="4.3" fill="#404070" stroke="#d0d044" stroke-width="0.6"/>
<ellipse cx="76.5" cy="533" rx="3.6" ry="3.0" fill="#707038" stroke="#d0d044" stroke-width="0.6"/>
<ellipse cx="73.9" cy="544.6" rx="5.6" ry="5.3" fill="#36367a" stroke="#d0d044" stroke-width="0.6"/>
<ellipse cx="62.1" cy="552.3" rx="5.9" ry="5.6" fill="#38387a" stroke="#d0d044" stroke-width="0.6"/>
</g>
<rect x="22.6" y="564.7" width="20.8" height="1.4" fill="#fff"/>
<text x="23.4" y="561.9" font-size="7.9" fill="#fff" textLength="21.4" lengthAdjust="spacingAndGlyphs">10 µm</text>
</g>
<rect x="17.5" y="576.2" width="196.3" height="11.7" fill="#05061c"/>
<text x="69.2" y="585.3" font-size="7.4" fill="#2f62b0" textLength="18.2" lengthAdjust="spacingAndGlyphs">DAPI</text>
<text x="103.9" y="585.3" font-size="7.4" fill="#a02a8e" textLength="20.3" lengthAdjust="spacingAndGlyphs">CD34</text>
<text x="141.2" y="585.3" font-size="7.4" fill="#d6d634" textLength="20.3" lengthAdjust="spacingAndGlyphs">CD61</text>
<g clip-path="url(#ct)">
<rect x="217" y="357" width="115" height="115" fill="#03031a"/>
<g filter="url(#gb4)">
<ellipse cx="322" cy="418" rx="12" ry="42" fill="#130f66"/>
<ellipse cx="304" cy="456" rx="26" ry="12" fill="#110d5c"/>
<ellipse cx="271" cy="377" rx="11" ry="9" fill="#15116c"/>
<ellipse cx="300" cy="372" rx="10" ry="7" fill="#100c58"/>
<ellipse cx="225" cy="380" rx="4" ry="8" fill="#56561c"/>
<ellipse cx="242" cy="452" rx="18" ry="9" fill="#0c0a44"/>
<ellipse cx="228" cy="420" rx="6" ry="14" fill="#0c0a40"/>
</g>
<g filter="url(#gy3)" stroke="#5e6216" stroke-width="1.0">
<path d="M249.2 395.2 C253.3 393.0 251.6 393.7 258.0 392.4 C264.4 391.1 261.3 391.3 268.5 391.4 C275.7 391.5 272.5 391.0 279.5 392.6 C286.5 394.2 283.3 392.9 289.6 396.3 C295.9 399.7 292.7 398.0 298.5 402.8 C304.3 407.6 302.5 406.7 306.9 410.8 C311.3 414.9 309.6 412.5 311.6 415.2 C313.6 417.9 313.2 415.8 312.9 418.8 C312.6 421.8 312.6 420.5 310.6 424.2 C308.6 427.9 309.6 425.7 306.9 430.0 C304.2 434.3 305.7 432.5 302.5 437.0 C299.3 441.5 300.6 439.8 297.3 443.5 C294.0 447.2 295.8 445.8 292.6 448.0 C289.4 450.2 290.9 449.8 287.7 450.0 C284.5 450.2 286.2 449.9 283.0 448.6 C279.8 447.3 282.3 448.1 278.0 446.2 C273.7 444.3 275.1 445.1 270.0 443.0 C264.9 440.9 267.5 441.9 262.7 439.8 C257.9 437.7 260.0 438.9 255.5 436.6 C251.0 434.3 252.6 436.2 249.2 432.8 C245.8 429.4 247.4 431.3 245.2 426.5 C243.0 421.7 243.5 423.7 242.6 418.5 C241.7 413.3 242.2 415.8 242.6 411.0 C243.0 406.2 242.7 408.0 243.8 404.0 C244.9 400.0 244.0 401.9 245.8 399.0 C247.6 396.1 245.1 397.4 249.2 395.2 Z" fill="#929624"/>
</g>
<g filter="url(#b1)">
<ellipse cx="274.0" cy="412.0" rx="16.2" ry="12.6" fill="#06062a"/>
<ellipse cx="269.8" cy="432.0" rx="9.6" ry="7.4" fill="#06062a"/>
</g>
<g filter="url(#gn2)">
<path d="M261.5 408.5 C263 402.8 270 401 277.8 402 C285 403.2 288.8 407.6 287.6 413.2 C286 419 279.5 421.8 272.5 421 C265 420 260 414.6 261.5 408.5 Z" fill="#17135e"/>
<ellipse cx="269.6" cy="432.4" rx="6.6" ry="5.0" fill="#191562"/>
</g>
<rect x="224.4" y="462.4" width="37.6" height="1.3" fill="#fff"/>
<text x="232.0" y="459.5" font-size="7.9" fill="#fff" textLength="21.8" lengthAdjust="spacingAndGlyphs">10 µm</text>
</g>
<g clip-path="url(#cb)">
<rect x="217" y="474" width="115" height="114" fill="#05031c"/>
<g filter="url(#gb4)">
<ellipse cx="321" cy="497" rx="13" ry="14" fill="#7a2092"/>
<ellipse cx="297" cy="503" rx="10" ry="9" fill="#4a1474"/>
<ellipse cx="268.5" cy="498.5" rx="11" ry="9" fill="#2a22a4"/>
<ellipse cx="322" cy="543" rx="13" ry="24" fill="#3424a4"/>
<ellipse cx="306" cy="566" rx="14" ry="12" fill="#281e9c"/>
<ellipse cx="232" cy="505" rx="6" ry="6" fill="#5a1460"/>
<ellipse cx="326" cy="480" rx="12" ry="6" fill="#201880"/>
<ellipse cx="252" cy="582" rx="30" ry="6" fill="#141058"/>
<ellipse cx="226" cy="545" rx="6" ry="18" fill="#100c4c"/>
</g>
<g filter="url(#gm3)" stroke="#6a1468" stroke-width="1.0">
<path d="M257 514.5 C265 512 279 512.5 287 516.5 C295 520.5 301.5 529 302.6 537 C303.2 545 299 552.5 294 557.5 C289 562.5 282 566.3 275 566.3 C267 565.8 257.5 562.5 250.5 556.5 C243.5 550.5 240.6 541 241.2 533 C241.8 525 248 517.5 257 514.5 Z" fill="url(#gm)"/>
</g>
<g filter="url(#gn3)">
<path d="M260 527.5 C262 521.5 271 520 279 522 C285.5 524.5 287.5 531 285 537 C282 542.5 273 543.5 266.5 541.5 C260.5 539 258.5 533.5 260 527.5 Z" fill="#3c3098"/>
<ellipse cx="267.3" cy="550.6" rx="5.2" ry="5.0" fill="#382c94"/>
</g>
<rect x="223.7" y="579.7" width="35.1" height="1.4" fill="#fff"/>
<text x="230.0" y="576.3" font-size="7.9" fill="#fff" textLength="22.2" lengthAdjust="spacingAndGlyphs">10 µm</text>
</g>
<path d="M0.5 0.5H519.5V637.5H0.5Z" fill="none" stroke="#707070" stroke-width="1"/>
</svg></body></html>
